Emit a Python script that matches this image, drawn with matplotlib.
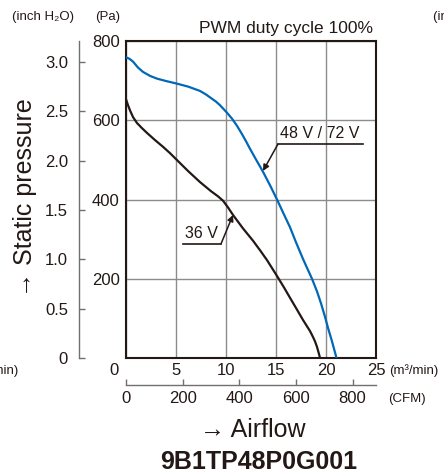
import matplotlib
matplotlib.use("Agg")
import matplotlib.pyplot as plt

plt.rcParams['font.family'] = ['Liberation Sans', 'DejaVu Sans']

# airflow (m3/min) vs static pressure (Pa)
flow_48 = [0, 0.35, 0.7, 1.2, 1.7, 2.4, 3.1, 4.0, 5.0, 6.2, 7.4, 8.0, 8.5, 9.0, 9.4, 10.1, 10.6, 11.1,
           11.6, 12.0, 12.4, 13.0, 13.7, 14.4, 15.1, 15.8, 16.4, 17.0, 17.7, 18.2, 18.6, 19.1, 19.5, 19.9,
           20.2, 20.6, 21.05]
pa_48 = [759, 755, 748, 733, 722, 712, 705, 699, 693, 685, 674, 665, 656, 647, 638, 619, 604, 586,
         565, 547, 528, 501, 470, 436, 400, 362, 330, 292, 250, 222, 200, 168, 138, 104,
         76, 42, 0]

flow_36 = [0, 0.2, 0.4, 0.7, 1.1, 1.6, 2.1, 2.9, 3.7, 4.4, 5.0, 6.2, 7.4, 8.5, 9.2, 9.7, 10.2, 10.7,
           11.7, 12.7, 13.4, 14.1, 15.1, 15.8, 16.4, 17.1, 17.7, 18.1, 18.4, 18.7, 18.9, 19.1, 19.3, 19.4]
pa_36 = [653, 638, 625, 608, 593, 580, 568, 550, 533, 517, 502, 472, 444, 421, 408, 397, 380, 361,
         327, 296, 272, 247, 207, 178, 152, 122, 96, 80, 68, 53, 42, 28, 10, 0]

x_ticks = [0, 5, 10, 15, 20, 25]
x_labels = ['', '5', '10', '15', '20', '25']
y_ticks = [0, 200, 400, 600, 800]
y_labels = ['', '200', '400', '600', '800']
inch_ticks = [0, 0.5, 1.0, 1.5, 2.0, 2.5, 3.0]
cfm_ticks = [0, 200, 400, 600, 800]

W, H = 444, 475
BLUE = '#0068b7'
INK = '#231815'
GRID = '#8c8c8c'


def px(x, y):
    return x / W, 1 - y / H


fig = plt.figure(figsize=(4.44, 4.75), dpi=100)
ax = fig.add_axes([126 / W, 1 - 358 / H, 250 / W, 317 / H])

ax.plot(flow_48, pa_48, color=BLUE, lw=1.6, zorder=3)
ax.plot(flow_36, pa_36, color=INK, lw=1.6, zorder=3)

ax.set_xlim(0, 25)
ax.set_ylim(0, 800)
ax.set_xticks(x_ticks, x_labels)
ax.set_yticks(y_ticks, y_labels)
ax.tick_params(length=0, labelsize=12, colors=INK)
ax.tick_params(axis='y', pad=4.5)
ax.tick_params(axis='x', pad=3.5)
ax.grid(True, color=GRID, lw=1.0)
for s in ax.spines.values():
    s.set_linewidth(1.5)
    s.set_color(INK)
ax.annotate('0', xy=(0, 0), xycoords='data', xytext=(-5, -3.5), textcoords='offset points',
            ha='right', va='top', fontsize=12, color=INK, annotation_clip=False)

# inch H2O axis
sy = ax.secondary_yaxis(-0.188, functions=(lambda p: p / 249.089, lambda i: i * 249.089))
sy.set_yticks(inch_ticks, ['0', '0.5', '1.0', '1.5', '2.0', '2.5', '3.0'])
sy.tick_params(direction='in', length=4.5, width=1, color='#707070', pad=8, labelsize=12, labelcolor=INK)
sy.spines['left'].set_color('#707070')
sy.spines['left'].set_linewidth(1)

# CFM axis
sx = ax.secondary_xaxis(-0.085, functions=(lambda q: q * 35.3147, lambda c: c / 35.3147))
sx.set_xticks(cfm_ticks)
sx.tick_params(direction='in', length=4, width=1, color='#707070', pad=4.5, labelsize=12, labelcolor=INK)
sx.spines['bottom'].set_color('#707070')
sx.spines['bottom'].set_linewidth(1)

# curve labels
ax.plot([15.2, 23.7], [540, 540], color=INK, lw=1.2)
ax.annotate('', xy=(13.7, 472), xytext=(15.2, 540),
            arrowprops=dict(arrowstyle='-|>', color=INK, lw=1.1, mutation_scale=9, shrinkA=0, shrinkB=0))
ax.text(15.4, 548, '48 V / 72 V', fontsize=11.5, color=INK, ha='left', va='bottom')

ax.plot([5.7, 9.5], [288, 288], color=INK, lw=1.2)
ax.annotate('', xy=(10.7, 361), xytext=(9.5, 288),
            arrowprops=dict(arrowstyle='-|>', color=INK, lw=1.1, mutation_scale=9, shrinkA=0, shrinkB=0))
ax.text(5.9, 296, '36 V', fontsize=11.5, color=INK, ha='left', va='bottom')

# texts around the chart
fig.text(*px(373, 28), 'PWM duty cycle 100%', fontsize=12.5, color=INK, ha='right', va='center')
fig.text(*px(43, 17), '(inch H₂O)', fontsize=9.5, color=INK, ha='center', va='center')
fig.text(*px(108, 17), '(Pa)', fontsize=9.5, color=INK, ha='center', va='center')
fig.text(*px(389, 371), '(m³/min)', fontsize=9.5, color=INK, ha='left', va='center')
fig.text(*px(388, 399), '(CFM)', fontsize=9.5, color=INK, ha='left', va='center')
fig.text(*px(25, 198), '→ Static pressure', fontsize=18, color=INK, rotation=90, ha='center', va='center')
fig.text(*px(253, 430), '→ Airflow', fontsize=18, color=INK, ha='center', va='center')
fig.text(*px(259, 462), '9B1TP48P0G001', fontsize=18, fontweight='bold', color=INK, ha='center', va='center')

# edges of the neighbouring charts
fig.text(*px(433, 17), '(inch H₂O)', fontsize=9.5, color=INK, ha='left', va='center')
fig.text(*px(18, 371), '(m³/min)', fontsize=9.5, color=INK, ha='right', va='center')

fig.savefig('out.png', dpi=100)
